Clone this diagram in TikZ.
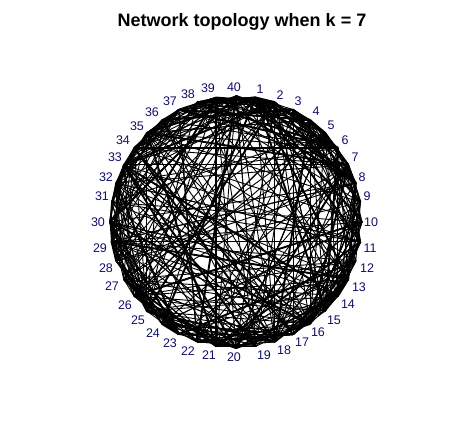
\documentclass[tikz,border=0pt]{standalone}
\usepackage{fontspec}
\setmainfont{Liberation Sans}
\begin{document}
\begin{tikzpicture}[x=1pt,y=-1pt,
  edge/.style={draw=black,line width=0.9pt},
  thickedge/.style={draw=black,line width=1.9pt},
  vlabel/.style={text=labblue,font=\fontsize{12.5}{14}\selectfont,inner sep=0pt},
  titlestyle/.style={font=\fontsize{18}{21}\selectfont\bfseries,inner sep=0pt}]
\definecolor{labblue}{HTML}{10106A}
\useasboundingbox[fill=white] (0,0) rectangle (472,442);
\node[titlestyle] (title) at (242,22) {Network topology when k = 7};
\foreach \i in {1,...,40}{
  \coordinate (n\i) at ({236+126*cos(90-9*\i)},{222-126*sin(90-9*\i)});
}
\pgfmathsetseed{4711}
\foreach \i in {1,...,40}{
  \foreach \j in {1,...,11}{
    \pgfmathrandominteger{\r}{0}{99}
    \ifnum\r<22
      \pgfmathrandominteger{\d}{2}{7}
      \pgfmathtruncatemacro{\t}{mod(\i+\d-1,40)+1}
    \else
      \pgfmathrandominteger{\t}{1}{40}
    \fi
    \pgfmathrandominteger{\w}{0}{99}
    \ifnum\t=\i\else
      \ifnum\w<18
        \draw[thickedge] (n\i) -- (n\t);
      \else
        \draw[edge] (n\i) -- (n\t);
      \fi
    \fi
  }
}
\foreach \i/\x/\y in {40/234/87,1/260/89,2/280/95,3/298/101,4/316/111,5/331/125,
  6/345/140,7/355/157,8/362/177,9/367/196,10/371/222,11/370/248,12/367/268,
  13/359/287,14/348/304,15/334/320,16/318/332,17/302/342,18/284/350,19/264/355,
  20/234/357,21/209/355,22/188/351,23/170/343,24/153/333,25/138/320,26/125/305,
  27/112/286,28/106/268,29/100/248,30/98/222,31/102/196,32/106/177,33/115/157,
  34/123/140,35/137/126,36/152/112,37/170/101,38/188/94,39/208/88}{
  \node[vlabel] (l\i) at (\x,\y) {\i};
}
\end{tikzpicture}
\end{document}
